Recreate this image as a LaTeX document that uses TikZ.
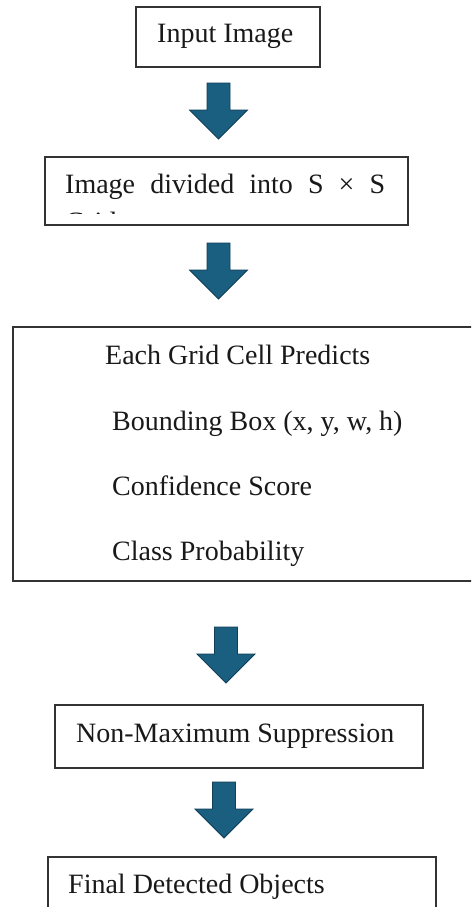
\documentclass[tikz,border=0pt]{standalone}
\usepackage{fontspec}
\setmainfont{Liberation Serif}
\definecolor{arrowblue}{HTML}{1A5E80}
\definecolor{arrowedge}{HTML}{123F57}
\definecolor{boxline}{HTML}{333333}
\begin{document}
\begin{tikzpicture}[x=1pt,y=-1pt,
  box/.style={draw=boxline,line width=1.3pt,fill=white,inner sep=0pt},
  txt/.style={anchor=base west,inner sep=0pt,font=\fontsize{28}{33.6}\selectfont,text=black!90},
  blockarrow/.pic={\draw[fill=arrowblue,draw=arrowedge,line width=0.8pt,line join=miter]
     (-11.5,0) -- (11.5,0) -- (11.5,27) -- (29,27) -- (0,56) -- (-29,27) -- (-11.5,27) -- cycle;}]
\useasboundingbox (0,0) rectangle (471,907);
\clip (0,0) rectangle (471,907);

% boxes
\node[box, minimum width=184, minimum height=60] (b1) at (228,37) {};
\node[box, minimum width=363, minimum height=68] (b2) at (226.5,191) {};
\node[box, minimum width=467, minimum height=254] (b3) at (246.5,454) {};
\node[box, minimum width=368, minimum height=63] (b4) at (239,736.5) {};
\node[box, minimum width=388, minimum height=83] (b5) at (242,898.5) {};

% texts
\node[txt] (t1) at (157,43) {Input Image};
\node[txt] (t2) at (65,193) {\hbox to 320pt{Image\hfill divided\hfill into\hfill S\hfill ×\hfill S}};
\begin{scope}
  \clip (45,157) rectangle (408,213.5);
  \node[txt] (t2b) at (65,231) {Grid};
\end{scope}
\node[txt] (t3) at (105,364) {Each Grid Cell Predicts};
\node[txt] (t3a) at (112,430) {Bounding Box (x, y, w, h)};
\node[txt] (t3b) at (112,495) {Confidence Score};
\node[txt] (t3c) at (112,560) {Class Probability};
\node[txt] (t4) at (76,742) {Non-Maximum Suppression};
\node[txt] (t5) at (68,893) {Final Detected Objects};

% block arrows
\pic at (218.5,83) {blockarrow};
\pic at (218.5,243) {blockarrow};
\pic at (226,627) {blockarrow};
\pic at (224,782) {blockarrow};
\end{tikzpicture}
\end{document}
